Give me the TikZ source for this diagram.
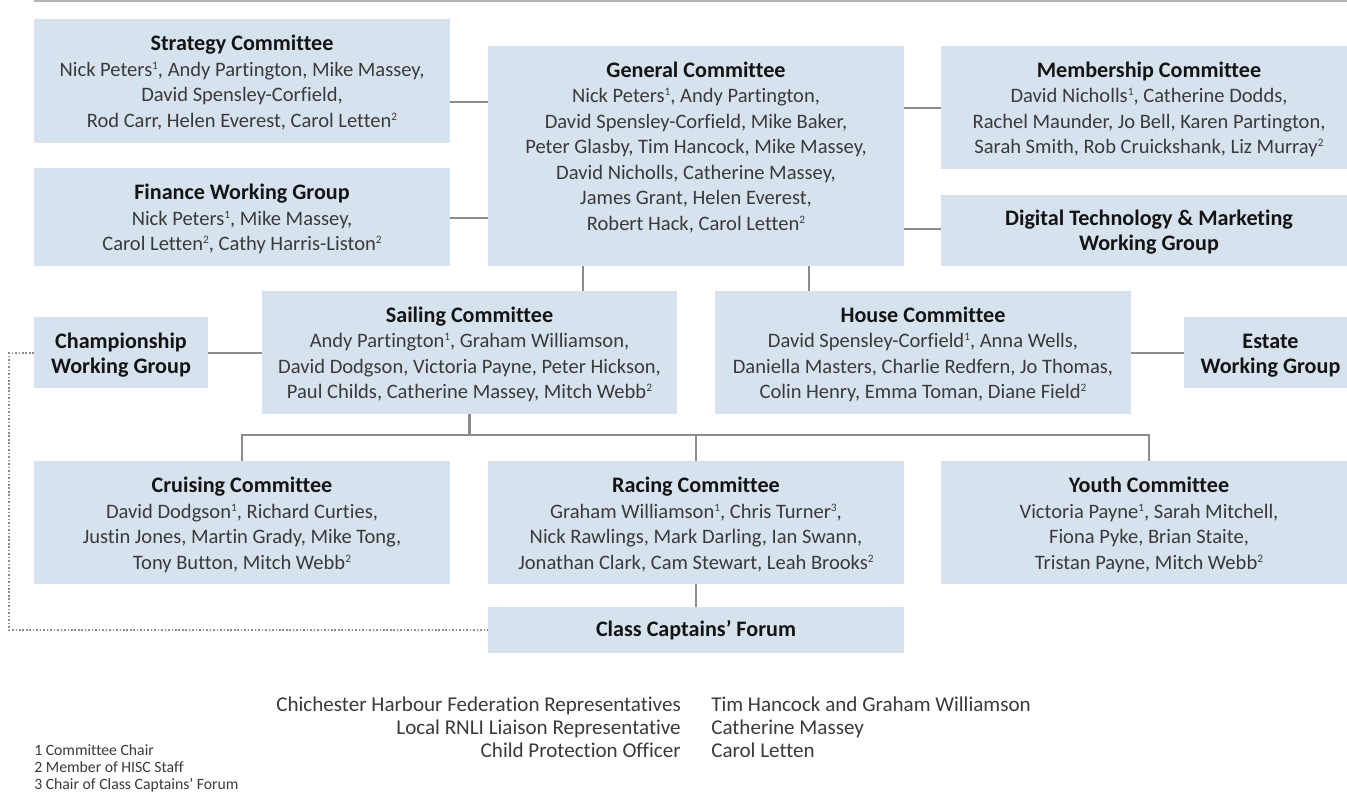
\documentclass[tikz,border=0pt]{standalone}
\usepackage{fontspec}
\setmainfont{Carlito}[Ligatures=CommonOff]
\usetikzlibrary{fit,calc}
\definecolor{boxfill}{HTML}{D6E3EE}
\definecolor{linegray}{HTML}{8C8C8C}
\definecolor{rulegray}{HTML}{B4B4B4}
\definecolor{namegray}{HTML}{3A3A3A}
\definecolor{titleblack}{HTML}{141414}
\newcommand\fnm[1]{\raisebox{5.2pt}{\fontsize{8.5}{8}\selectfont #1}}
\newcommand\ttlb[1]{{\fontsize{16.6}{19.1}\selectfont\bfseries\color{titleblack}#1}}
\newcommand\ttl[1]{\rule{0pt}{14pt}\ttlb{#1}}
\begin{document}
\begin{tikzpicture}[x=0.75pt,y=-0.75pt,
  box/.style={fill=boxfill, draw=none, inner sep=0pt, outer sep=0pt},
  txt/.style={align=center, inner sep=0pt, anchor=north, text=namegray,
    font=\fontsize{15.4}{19.1}\selectfont},
  foot/.style={inner sep=0pt, text=namegray, font=\fontsize{15.8}{19.1}\selectfont},
  note/.style={inner sep=0pt, anchor=base west, text=namegray, font=\fontsize{11.8}{12}\selectfont},
  conn/.style={draw=linegray, line width=1.7pt},
  dots/.style={draw=linegray, line width=1.2pt, dash pattern=on 1.2pt off 1.4pt}]
\clip (0,0) rectangle (1347,800);
\fill[white] (0,0) rectangle (1347,800);
% top rule
\coordinate (ruleL) at (34,1);
\coordinate (ruleR) at (1360,1);
\draw[draw=rulegray, line width=1.3pt] (ruleL) -- (ruleR);
% boxes
\node[box, fit={(34,19) (450,143)}] (strategy) {};
\node[box, fit={(34,168) (450,266)}] (finance) {};
\node[box, fit={(488,46) (904,266)}] (general) {};
\node[box, fit={(941,46) (1357,169)}] (membership) {};
\node[box, fit={(941,195) (1357,266)}] (digital) {};
\node[box, fit={(262,291) (677,414)}] (sailing) {};
\node[box, fit={(715,291) (1131,414)}] (house) {};
\node[box, fit={(34,317) (208,388)}] (champ) {};
\node[box, fit={(1184,317) (1357,388)}] (estate) {};
\node[box, fit={(34,461) (450,584)}] (cruising) {};
\node[box, fit={(488,461) (904,584)}] (racing) {};
\node[box, fit={(941,461) (1357,584)}] (youth) {};
\node[box, fit={(488,607) (904,653)}] (classcap) {};
% texts
\node[txt] (strategyT) at ($(strategy.north)+(0,13)$) {\ttl{Strategy Committee}\\
  Nick Peters\fnm{1}, Andy Partington, Mike Massey,\\
  David Spensley-Corfield,\\
  Rod Carr, Helen Everest, Carol Letten\fnm{2}};
\node[txt] (financeT) at ($(finance.north)+(0,13)$) {\ttl{Finance Working Group}\\
  Nick Peters\fnm{1}, Mike Massey,\\
  Carol Letten\fnm{2}, Cathy Harris-Liston\fnm{2}};
\node[txt] (generalT) at ($(general.north)+(0,12.5)$) {\ttl{General Committee}\\
  Nick Peters\fnm{1}, Andy Partington,\\
  David Spensley-Corfield, Mike Baker,\\
  Peter Glasby, Tim Hancock, Mike Massey,\\
  David Nicholls, Catherine Massey,\\
  James Grant, Helen Everest,\\
  Robert Hack, Carol Letten\fnm{2}};
\node[txt] (membershipT) at ($(membership.north)+(0,12.5)$) {\ttl{Membership Committee}\\
  David Nicholls\fnm{1}, Catherine Dodds,\\
  Rachel Maunder, Jo Bell, Karen Partington,\\
  Sarah Smith, Rob Cruickshank, Liz Murray\fnm{2}};
\node[txt] (digitalT) at ($(digital.north)+(0,11.5)$) {\ttl{Digital Technology \& Marketing}\\
  \ttlb{Working Group}};
\node[txt] (sailingT) at ($(sailing.north)+(0,12.5)$) {\ttl{Sailing Committee}\\
  Andy Partington\fnm{1}, Graham Williamson,\\
  David Dodgson, Victoria Payne, Peter Hickson,\\
  Paul Childs, Catherine Massey, Mitch Webb\fnm{2}};
\node[txt] (houseT) at ($(house.north)+(0,12.5)$) {\ttl{House Committee}\\
  David Spensley-Corfield\fnm{1}, Anna Wells,\\
  Daniella Masters, Charlie Redfern, Jo Thomas,\\
  Colin Henry, Emma Toman, Diane Field\fnm{2}};
\node[txt] (champT) at ($(champ.north)+(0,12.5)$) {\ttl{Championship}\\
  \ttlb{Working Group}};
\node[txt] (estateT) at ($(estate.north)+(0,12.5)$) {\ttl{Estate}\\
  \ttlb{Working Group}};
\node[txt] (cruisingT) at ($(cruising.north)+(0,13)$) {\ttl{Cruising Committee}\\
  David Dodgson\fnm{1}, Richard Curties,\\
  Justin Jones, Martin Grady, Mike Tong,\\
  Tony Button, Mitch Webb\fnm{2}};
\node[txt] (racingT) at ($(racing.north)+(0,13)$) {\ttl{Racing Committee}\\
  Graham Williamson\fnm{1}, Chris Turner\fnm{3},\\
  Nick Rawlings, Mark Darling, Ian Swann,\\
  Jonathan Clark, Cam Stewart, Leah Brooks\fnm{2}};
\node[txt] (youthT) at ($(youth.north)+(0,13)$) {\ttl{Youth Committee}\\
  Victoria Payne\fnm{1}, Sarah Mitchell,\\
  Fiona Pyke, Brian Staite,\\
  Tristan Payne, Mitch Webb\fnm{2}};
\node[txt] (classcapT) at ($(classcap.north)+(0,11)$) {\ttl{Class Captains’ Forum}};
% helper levels
\coordinate (y102) at (0,102);
\coordinate (y218) at (0,218);
\coordinate (y108) at (0,108);
\coordinate (y229) at (0,229);
\coordinate (x583) at (583,0);
\coordinate (x809) at (809,0);
\coordinate (y353) at (0,353);
\coordinate (hub) at (469.5,435);
% connectors
\draw[conn] (strategy.east |- y102) -- (general.west |- y102);
\draw[conn] (finance.east |- y218) -- (general.west |- y218);
\draw[conn] (general.east |- y108) -- (membership.west |- y108);
\draw[conn] (general.east |- y229) -- (digital.west |- y229);
\draw[conn] (general.south -| x583) -- (sailing.north -| x583);
\draw[conn] (general.south -| x809) -- (house.north -| x809);
\draw[conn] (champ.east |- y353) -- (sailing.west |- y353);
\draw[conn] (house.east |- y353) -- (estate.west |- y353);
\draw[conn] (sailing.south) -- (hub);
\draw[conn] (cruising.north) |- (hub) -| (youth.north);
\draw[conn] (hub -| racing.north) -- (racing.north);
\draw[conn] (racing.south) -- (classcap.north);
\draw[dots] (champ.west |- y353) -- ++(-25,0) |- (classcap.west);
% footer
\node[foot, anchor=base east] (rep1) at (681,711) {Chichester Harbour Federation Representatives};
\node[foot, anchor=base east] (rep2) at (681,734) {Local RNLI Liaison Representative};
\node[foot, anchor=base east] (rep3) at (681,757) {Child Protection Officer};
\node[foot, anchor=base west] (who1) at (711,711) {Tim Hancock and Graham Williamson};
\node[foot, anchor=base west] (who2) at (711,734) {Catherine Massey};
\node[foot, anchor=base west] (who3) at (711,757) {Carol Letten};
\node[note] (n1) at (34,755) {1 Committee Chair};
\node[note] (n2) at (34,772) {2 Member of HISC Staff};
\node[note] (n3) at (34,789) {3 Chair of Class Captains’ Forum};
\end{tikzpicture}
\end{document}
